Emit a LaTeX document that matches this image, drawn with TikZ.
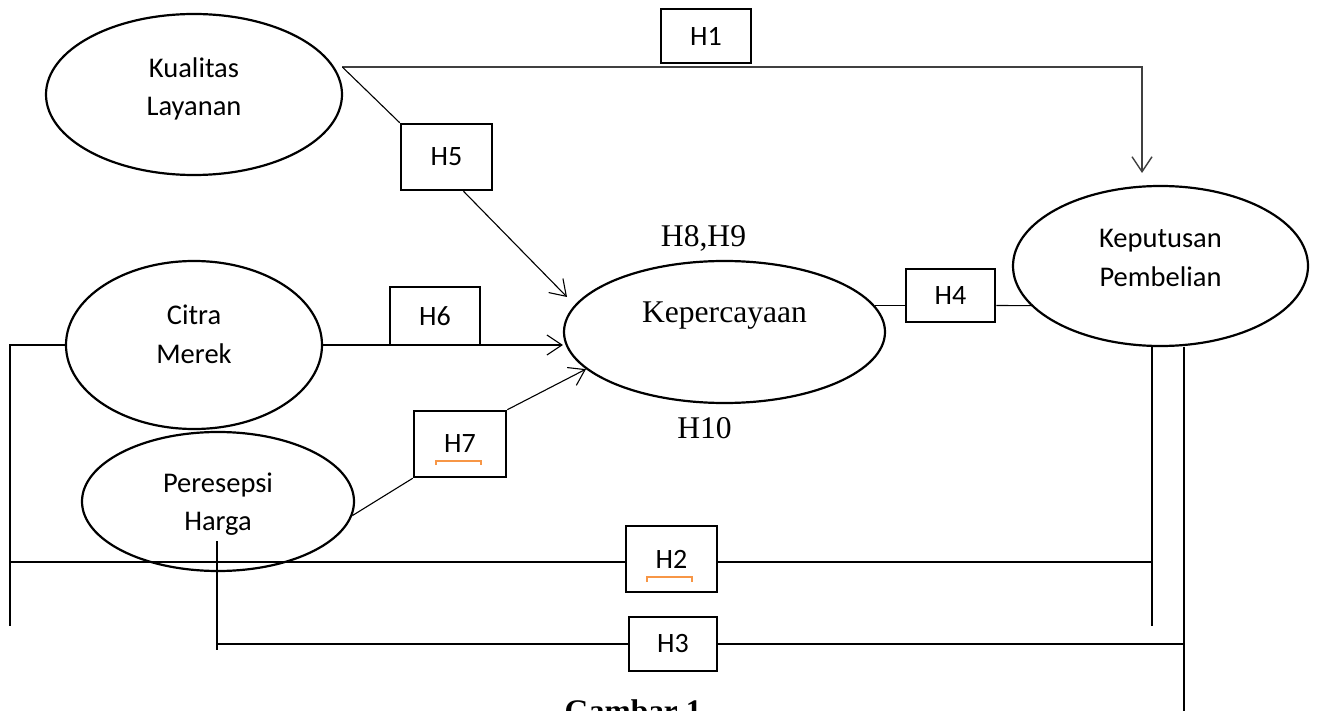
\documentclass[tikz,border=0pt]{standalone}
\usepackage{fontspec}
\setmainfont{Liberation Serif}
\newfontfamily\calibri{Carlito}
\usetikzlibrary{arrows.meta,shapes.geometric}
\definecolor{accent}{HTML}{F79646}

\begin{document}
\begin{tikzpicture}[x=1pt, y=-1pt,
  var/.style={draw, ellipse, line width=2.2pt, inner sep=0pt},
  vartext/.style={align=center, font=\calibri\fontsize{28.5}{38.5}\selectfont},
  hyp/.style={draw, line width=2.5pt, inner sep=0pt, font=\calibri\fontsize{28}{34}\selectfont},
  note/.style={anchor=base, font=\fontsize{31.6}{38}\selectfont},
  capt/.style={anchor=base, font=\bfseries\fontsize{31.4}{38}\selectfont},
  conn/.style={line width=1.1pt},
  arr/.style={-{Straight Barb[length=15pt,width=20pt]}, line width=1.1pt},
  squiggle/.style={accent, line width=1.3pt}
]
\useasboundingbox (0,0) rectangle (1317,711);
\clip (0,0) rectangle (1317,711);

\node[var, minimum width=296pt, minimum height=161pt] (kual) at (194,94.5) {};
\node[var, minimum width=256pt, minimum height=168pt] (cit) at (194,345) {};
\node[var, minimum width=272pt, minimum height=139pt] (per) at (218,501.5) {};
\node[var, minimum width=321pt, minimum height=142pt] (kep) at (724.5,332) {};
\node[var, minimum width=295pt, minimum height=160pt] (keb) at (1160.5,266) {};

\node[vartext] (kualtxt) at (194,89) {Kualitas\\Layanan};
\node[vartext] (cittxt) at (194,334.5) {Citra\\Merek};
\node[vartext] (pertxt) at (218,504) {Peresepsi\\Harga};
\node[vartext] (kebtxt) at (1160.5,258) {Keputusan\\Pembelian};
\node[note] (keptxt) at (724.5,323) {Kepercayaan};

\node[hyp, minimum width=90pt, minimum height=54pt] (h1) at (706,36) {H1};
\node[hyp, minimum width=91pt, minimum height=66pt] (h5) at (446.5,157) {H5};
\node[hyp, minimum width=90pt, minimum height=58pt] (h6) at (435,316) {H6};
\node[hyp, minimum width=92pt, minimum height=66pt] (h7) at (460,444) {H7};
\node[hyp, minimum width=89pt, minimum height=53pt] (h4) at (950.5,295.5) {H4};
\node[hyp, minimum width=91pt, minimum height=66pt] (h2) at (671.5,559) {H2};
\node[hyp, minimum width=88pt, minimum height=54pt] (h3) at (673,644) {H3};

\node[note] (h89) at (703.5,247) {H8,H9};
\node[note] (h10) at (704.5,438) {H10};
\node[capt] (gbr) at (633,721.4) {Gambar 1};

\coordinate (h1tip) at (1142,173);
\coordinate (h5tip) at (567,297);
\coordinate (lbot) at (10,626);
\coordinate (h2l) at (10,562);
\coordinate (kbA) at (1152,626);
\coordinate (kbB) at (1184,711);
\coordinate (ptop) at (217,541);
\coordinate (pbot) at (217,650);

\draw[arr, black!75, line width=1.4pt] ([xshift=8pt]kual.11) -| (h1tip);
\draw[conn] ([xshift=8pt]kual.11) -- (h5.north west);
\draw[arr] ([xshift=17pt]h5.south) -- (h5tip);
\draw[arr] (cit.east) -- (cit.east -| kep.west);
\draw[conn] (per.-6) -- (h7.south west);
\draw[arr] (h7.north east) -- (kep.195);
\draw[conn] (kep.10) -- (kep.10 -| h4.west);
\draw[conn] (kep.10 -| h4.east) -- (keb.197);

\draw[conn] (cit.west) -| (lbot);
\draw[conn] (h2l) -- (h2.west |- h2l);
\draw[conn] (h2.east |- h2l) -- (h2l -| kbA);
\draw[conn] (keb.south -| kbA) -- (kbA);
\draw[conn] (ptop) -- (pbot);
\draw[conn] (ptop |- h3.west) -- (h3.west);
\draw[conn] (h3.east) -- (h3.east -| kbB);
\draw[conn] (keb.south -| kbB) -- (kbB);

\draw[squiggle] (436,465) |- (481,461) -- (481,465);
\draw[squiggle] (647,582) |- (692,577) -- (692,582);

\end{tikzpicture}
\end{document}
